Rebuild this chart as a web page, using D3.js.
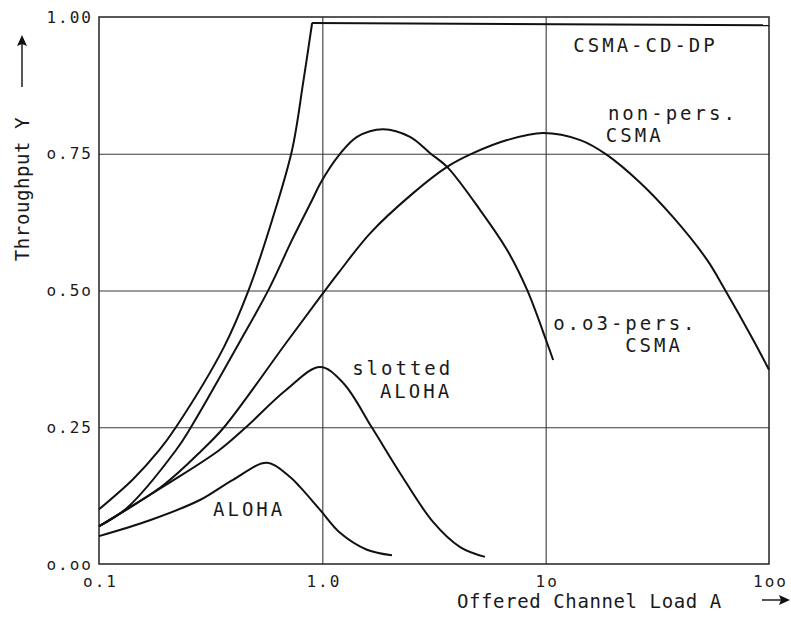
<!DOCTYPE html>
<html>
<head>
<meta charset="utf-8">
<script src="https://cdn.jsdelivr.net/npm/d3@7"></script>
<style>
  html, body { margin: 0; padding: 0; background: #fff; }
  #chart { width: 791px; height: 620px; }
  text { font-family: "DejaVu Sans Mono", monospace; fill: #1a1a1a; }
  .curve { fill: none; stroke: #111; stroke-width: 2; stroke-linejoin: round; }
  .grid line { stroke: #3a3a3a; stroke-width: 1.1; }
  .grid .domain { display: none; }
  .tick-label text { font-size: 16px; letter-spacing: 2px; }
  .curve-label { font-size: 19px; letter-spacing: 3px; }
  .axis-title { font-size: 19px; letter-spacing: 0.6px; }
</style>
</head>
<body>
<div id="chart"></div>
<script>
// axis ticks (typewriter style zeros as in the original)
const loadTicks = [0.1, 1, 10, 100];
const loadTickLabels = ["o.1", "1.0", "1o", "1oo"];
const thruTicks = [0, 0.25, 0.5, 0.75, 1];
const thruTickLabels = ["o.oo", "o.25", "o.5o", "o.75", "1.00"];

// CSMA-CD-DP (steep rise, then flat from the knee at ~0.9)
const cdLoad = [0.1, 0.142, 0.186, 0.221, 0.363, 0.47, 0.596, 0.732, 0.82, 0.9, 100];
const cdThru = [0.100, 0.155, 0.208, 0.250, 0.397, 0.503, 0.629, 0.757, 0.879, 0.989, 0.985];
const cdKnee = 9; // index of the knee point

// 0.03-persistent CSMA
const p03Load = [0.1, 0.133, 0.221, 0.258, 0.424, 0.577, 0.731, 0.899, 0.986, 1.19, 1.43, 1.87, 2.47, 3.04, 3.62, 5.09, 6.72, 8.26, 10.15, 10.8];
const p03Thru = [0.069, 0.102, 0.208, 0.250, 0.404, 0.503, 0.592, 0.665, 0.698, 0.748, 0.781, 0.795, 0.781, 0.751, 0.726, 0.647, 0.574, 0.501, 0.404, 0.373];

// non-persistent CSMA
const npLoad = [0.1, 0.194, 0.289, 0.363, 0.688, 0.986, 1.19, 1.64, 2.55, 3.62, 4.73, 6.72, 9.73, 14.3, 18.8, 26.5, 37.2, 52.8, 63.6, 84.9, 100];
const npThru = [0.069, 0.144, 0.208, 0.250, 0.404, 0.490, 0.534, 0.605, 0.678, 0.726, 0.751, 0.775, 0.788, 0.775, 0.748, 0.697, 0.634, 0.556, 0.501, 0.410, 0.355];

// slotted ALOHA
const saLoad = [0.1, 0.2, 0.345, 0.455, 0.688, 0.977, 1.24, 1.67, 2.23, 3.13, 4.14, 5.35];
const saThru = [0.069, 0.145, 0.208, 0.250, 0.318, 0.360, 0.331, 0.249, 0.166, 0.077, 0.031, 0.013];

// pure ALOHA
const alLoad = [0.1, 0.169, 0.283, 0.398, 0.565, 0.717, 0.794, 0.977, 1.20, 1.585, 2.05];
const alThru = [0.051, 0.080, 0.117, 0.154, 0.185, 0.159, 0.141, 0.099, 0.057, 0.026, 0.016];

const margin = {top: 17, right: 22, bottom: 56, left: 99};
const width = 791 - margin.left - margin.right;
const height = 620 - margin.top - margin.bottom;

const svg = d3.select("#chart").append("svg")
    .attr("width", 791)
    .attr("height", 620);

const g = svg.append("g")
    .attr("transform", `translate(${margin.left},${margin.top})`);

const x = d3.scaleLog().domain([0.1, 100]).range([0, width]);
const y = d3.scaleLinear().domain([0, 1]).range([height, 0]);

// grid lines
g.append("g")
    .attr("class", "grid")
    .call(d3.axisLeft(y).tickValues([0.25, 0.5, 0.75]).tickSize(-width).tickFormat(""));
g.append("g")
    .attr("class", "grid")
    .attr("transform", `translate(0,${height})`)
    .call(d3.axisBottom(x).tickValues([1, 10]).tickSize(height).tickFormat(""))
    .selectAll("line").attr("y2", -height);

// frame
g.append("rect")
    .attr("width", width)
    .attr("height", height)
    .attr("fill", "none")
    .attr("stroke", "#222")
    .attr("stroke-width", 1.5);

// tick labels
const xAxis = g.append("g")
    .attr("class", "tick-label")
    .attr("transform", `translate(0,${height})`)
    .call(d3.axisBottom(x).tickValues(loadTicks).tickSize(0).tickPadding(12)
        .tickFormat((d, i) => loadTickLabels[i]));
xAxis.select(".domain").remove();
xAxis.selectAll("text").attr("dx", "1px");

const yAxis = g.append("g")
    .attr("class", "tick-label")
    .call(d3.axisLeft(y).tickValues(thruTicks).tickSize(0).tickPadding(6)
        .tickFormat((d, i) => thruTickLabels[i]));
yAxis.select(".domain").remove();

// curves
const line = d3.line()
    .x(d => x(d[0]))
    .y(d => y(d[1]))
    .curve(d3.curveCatmullRom.alpha(0.5));
const straight = d3.line()
    .x(d => x(d[0]))
    .y(d => y(d[1]));

const pts = (ld, th) => ld.map((v, i) => [v, th[i]]);

const cdPts = pts(cdLoad, cdThru);
// CD-DP: smooth rise up to the knee, straight flat part after it
g.append("path").attr("class", "curve").attr("d", line(cdPts.slice(0, cdKnee + 1)));
g.append("path").attr("class", "curve").attr("d", straight(cdPts.slice(cdKnee)));

const series = [
    [p03Load, p03Thru],
    [npLoad, npThru],
    [saLoad, saThru],
    [alLoad, alThru]
];
series.forEach(([ld, th]) => {
    g.append("path")
        .attr("class", "curve")
        .attr("d", line(pts(ld, th)));
});

// curve labels (anchored in data coordinates)
const labels = [
    ["CSMA-CD-DP", 13.3, 0.936],
    ["non-pers.", 19.0, 0.812],
    ["CSMA", 18.6, 0.771],
    ["o.o3-pers.", 10.8, 0.428],
    ["CSMA", 22.7, 0.388],
    ["slotted", 1.36, 0.346],
    ["ALOHA", 1.81, 0.303],
    ["ALOHA", 0.324, 0.088]
];
g.selectAll(".curve-label")
    .data(labels)
    .join("text")
    .attr("class", "curve-label")
    .attr("x", d => x(d[1]))
    .attr("y", d => y(d[2]))
    .text(d => d[0]);

// axis titles with arrows
svg.append("text")
    .attr("class", "axis-title")
    .attr("x", 457)
    .attr("y", 608)
    .text("Offered Channel Load A");

svg.append("text")
    .attr("class", "axis-title")
    .attr("text-anchor", "middle")
    .attr("transform", "translate(29,189) rotate(-90)")
    .text("Throughput Y");

svg.append("line")
    .attr("x1", 762).attr("y1", 600).attr("x2", 782).attr("y2", 600)
    .attr("stroke", "#111").attr("stroke-width", 1.4);
svg.append("path")
    .attr("d", "M790,600 L779,595 L781,600 L779,605 Z")
    .attr("fill", "#111");

svg.append("line")
    .attr("x1", 22).attr("y1", 87).attr("x2", 22).attr("y2", 44)
    .attr("stroke", "#111").attr("stroke-width", 1.4);
svg.append("path")
    .attr("d", "M22,35 L17,46 L22,44 L27,46 Z")
    .attr("fill", "#111");
</script>
</body>
</html>
